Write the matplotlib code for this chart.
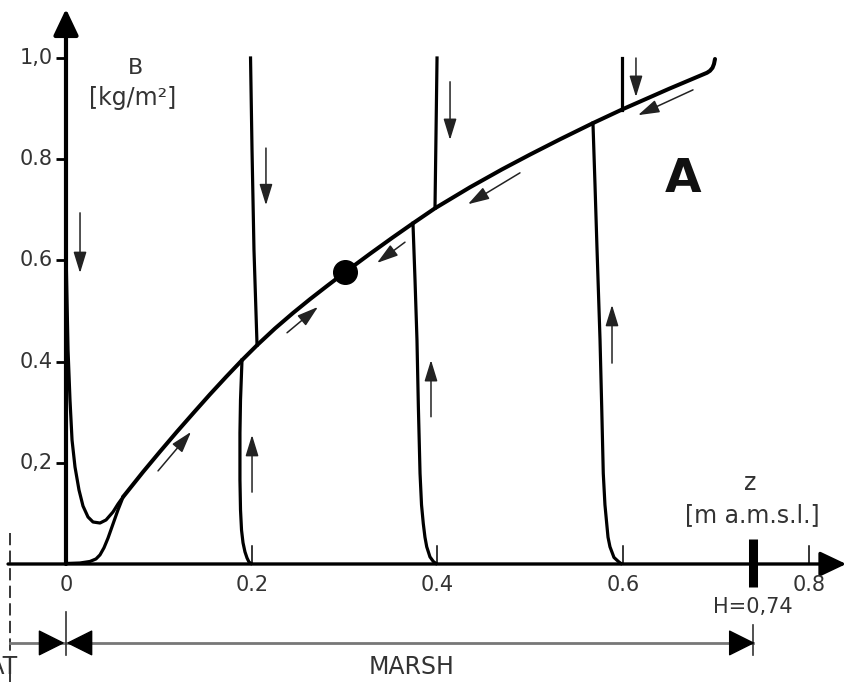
import matplotlib.pyplot as plt

# equilibrium curve B(z)
eq_z = [0.0614, 0.0829, 0.1012, 0.1195, 0.1389, 0.1550, 0.1723, 0.1895, 0.2057, 0.2250,
        0.2444, 0.2627, 0.2810, 0.3004, 0.3273, 0.3510, 0.3736, 0.3973, 0.4350, 0.4694,
        0.4996, 0.5319, 0.5674, 0.5987, 0.6493, 0.6902, 0.6934, 0.6961, 0.6977, 0.6988]
eq_b = [0.1324, 0.1818, 0.2221, 0.2615, 0.3020, 0.3352, 0.3696, 0.4028, 0.4324, 0.4654,
        0.4960, 0.5233, 0.5494, 0.5765, 0.6130, 0.6443, 0.6733, 0.7030, 0.7445, 0.7798,
        0.8091, 0.8393, 0.8713, 0.8982, 0.9391, 0.9708, 0.9747, 0.9806, 0.9881, 0.9980]

# trajectory starting high at z=0 (dips and joins the curve)
dip_z = [0.0, 0.0011, 0.0022, 0.0043, 0.0065, 0.0097, 0.0140, 0.0183, 0.0237, 0.0291,
         0.0366, 0.0431, 0.0506, 0.0560, 0.0614]
dip_b = [0.6206, 0.5217, 0.4229, 0.3241, 0.2451, 0.1917, 0.1462, 0.1146, 0.0929, 0.0830,
         0.0810, 0.0870, 0.1028, 0.1186, 0.1324]

# trajectory starting from bare soil at z=0
rise_z = [0.0, 0.0151, 0.0258, 0.0323, 0.0366, 0.0409, 0.0452, 0.0506, 0.0560, 0.0614]
rise_b = [0.001, 0.002, 0.005, 0.010, 0.018, 0.032, 0.051, 0.079, 0.107, 0.132]

# trajectories from above (B=1) down to the curve
down_z = [[0.1987, 0.2003, 0.2024, 0.2057],
          [0.3995, 0.3984, 0.3973],
          [0.5987, 0.5987]]
down_b = [[1.0, 0.818, 0.621, 0.4324],
          [1.0, 0.85, 0.7030],
          [1.0, 0.8982]]

# trajectories from below (B~0) up to the curve
up_z = [[0.1992, 0.1970, 0.1949, 0.1927, 0.1906, 0.1890, 0.1879, 0.1873, 0.1873, 0.1879, 0.1895],
        [0.3984, 0.3955, 0.3919, 0.3884, 0.3865, 0.3847, 0.3828, 0.3812, 0.3794, 0.3779, 0.3758, 0.3736],
        [0.5976, 0.5947, 0.5900, 0.5857, 0.5836, 0.5822, 0.5803, 0.5785, 0.5768, 0.5750, 0.5717, 0.5696, 0.5674]]
up_b = [[0.001, 0.004, 0.012, 0.024, 0.042, 0.067, 0.107, 0.166, 0.259, 0.324, 0.4028],
        [0.001, 0.005, 0.014, 0.034, 0.053, 0.080, 0.117, 0.179, 0.311, 0.443, 0.561, 0.6733],
        [0.001, 0.005, 0.013, 0.034, 0.053, 0.080, 0.117, 0.179, 0.311, 0.443, 0.626, 0.749, 0.8713]]

# stable equilibrium point
eq_point = (0.3004, 0.5765)

# small direction arrows (tail -> head)
arr_z0 = [0.0151, 0.2153, 0.4135, 0.6137, 0.6751, 0.4888, 0.3650, 0.2380, 0.0991, 0.2003, 0.3930, 0.5879]
arr_b0 = [0.694, 0.822, 0.953, 1.000, 0.937, 0.773, 0.636, 0.457, 0.184, 0.142, 0.291, 0.397]
arr_z1 = [0.0151, 0.2153, 0.4135, 0.6137, 0.6159, 0.4328, 0.3349, 0.2713, 0.1346, 0.2003, 0.3930, 0.5879]
arr_b1 = [0.575, 0.709, 0.838, 0.923, 0.887, 0.711, 0.595, 0.508, 0.261, 0.255, 0.403, 0.512]

ytick_vals = [1.0, 0.8, 0.6, 0.4, 0.2]
ytick_labels = ['1,0', '0.8', '0.6', '0.4', '0,2']
xtick_vals = [0.0, 0.2, 0.4, 0.6, 0.8]
xtick_labels = ['0', '0.2', '0.4', '0.6', '0.8']
H = 0.74
z_flat = -0.0603

txt = '#333333'

fig = plt.figure(figsize=(8.48, 6.82), dpi=100)
ax = fig.add_axes([0, 0, 1, 1])
ax.set_xlim(-0.07106, 0.8420)
ax.set_ylim(-0.2332, 1.1146)
ax.axis('off')

# axes with arrow heads
ax.annotate('', xy=(0, 1.097), xytext=(0, 0),
            arrowprops=dict(arrowstyle='-|>,head_length=0.8,head_width=0.38', lw=3.0,
                            color='k', shrinkA=0, shrinkB=0, mutation_scale=20))
ax.annotate('', xy=(0.840, 0), xytext=(-0.0624, 0),
            arrowprops=dict(arrowstyle='-|>,head_length=0.8,head_width=0.38', lw=2.4,
                            color='k', shrinkA=0, shrinkB=0, mutation_scale=20))

# y ticks
for v, lab in zip(ytick_vals, ytick_labels):
    ax.plot([-0.0108, 0], [v, v], color='k', lw=2.0, solid_capstyle='butt')
    ax.text(-0.0140, v, lab, ha='right', va='center', fontsize=15, color=txt)

# x ticks
for v, lab in zip(xtick_vals, xtick_labels):
    if v > 0:
        ax.plot([v, v], [0, 0.036], color='k', lw=1.1)
    ax.text(v, -0.0415, lab, ha='center', va='center', fontsize=15, color=txt)

# H marker
ax.plot([H, H], [-0.045, 0.049], color='k', lw=6.5, solid_capstyle='butt')
ax.text(H, -0.085, 'H=0,74', ha='center', va='center', fontsize=15, color=txt)

# axis names
ax.text(0.0743, 0.980, 'B', ha='center', va='center', fontsize=16, color=txt)
ax.text(0.0721, 0.921, '[kg/m\u00b2]', ha='center', va='center', fontsize=17, color=txt)
ax.text(0.7365, 0.160, 'z', ha='center', va='center', fontsize=17, color=txt)
ax.text(0.7386, 0.097, '[m a.m.s.l.]', ha='center', va='center', fontsize=17, color=txt)
ax.text(0.6643, 0.759, 'A', ha='center', va='center', fontsize=34, fontweight='bold', color='#111111')

# curves
ax.plot(eq_z, eq_b, color='k', lw=2.9, solid_capstyle='round', zorder=4)
ax.plot(dip_z, dip_b, color='k', lw=2.3, zorder=3)
ax.plot(rise_z, rise_b, color='k', lw=2.3, zorder=3)
for zs, bs in zip(down_z, down_b):
    ax.plot(zs, bs, color='k', lw=2.3, zorder=3)
for zs, bs in zip(up_z, up_b):
    ax.plot(zs, bs, color='k', lw=2.3, zorder=3)
ax.plot(*eq_point, 'o', color='k', markersize=17, zorder=5)

# direction arrows
for z0, b0, z1, b1 in zip(arr_z0, arr_b0, arr_z1, arr_b1):
    ax.annotate('', xy=(z1, b1), xytext=(z0, b0),
                arrowprops=dict(arrowstyle='-|>,head_length=1.3,head_width=0.4', lw=1.1,
                                color='#222222', shrinkA=0, shrinkB=0, mutation_scale=10))

# FLAT / MARSH zones
yb = -0.156
ax.plot([z_flat, z_flat], [0.061, -0.24], color='k', lw=1.1, linestyle=(0, (8, 3.5)))
ax.plot([z_flat, H], [yb, yb], color='#777777', lw=2.0)
ax.plot([0, 0], [-0.095, -0.180], color='#333333', lw=1.2)
ax.plot([H, H], [-0.121, -0.180], color='#333333', lw=1.2)
head = 'simple,head_length=0.85,head_width=0.85,tail_width=0.01'
ax.annotate('', xy=(-0.0032, yb), xytext=(-0.028, yb),
            arrowprops=dict(arrowstyle=head, color='k', shrinkA=0, shrinkB=0, mutation_scale=20))
ax.annotate('', xy=(0.0022, yb), xytext=(0.027, yb),
            arrowprops=dict(arrowstyle=head, color='k', shrinkA=0, shrinkB=0, mutation_scale=20))
ax.annotate('', xy=(H, yb), xytext=(H - 0.025, yb),
            arrowprops=dict(arrowstyle=head, color='k', shrinkA=0, shrinkB=0, mutation_scale=20))
ax.text(0.3725, -0.2036, 'MARSH', ha='center', va='center', fontsize=17, color=txt)
# label runs off the left edge, as in the original figure
ax.text(-0.0517, -0.2036, 'FLAT', ha='right', va='center', fontsize=17, color=txt)

plt.savefig('out.png', dpi=100)
plt.close()
